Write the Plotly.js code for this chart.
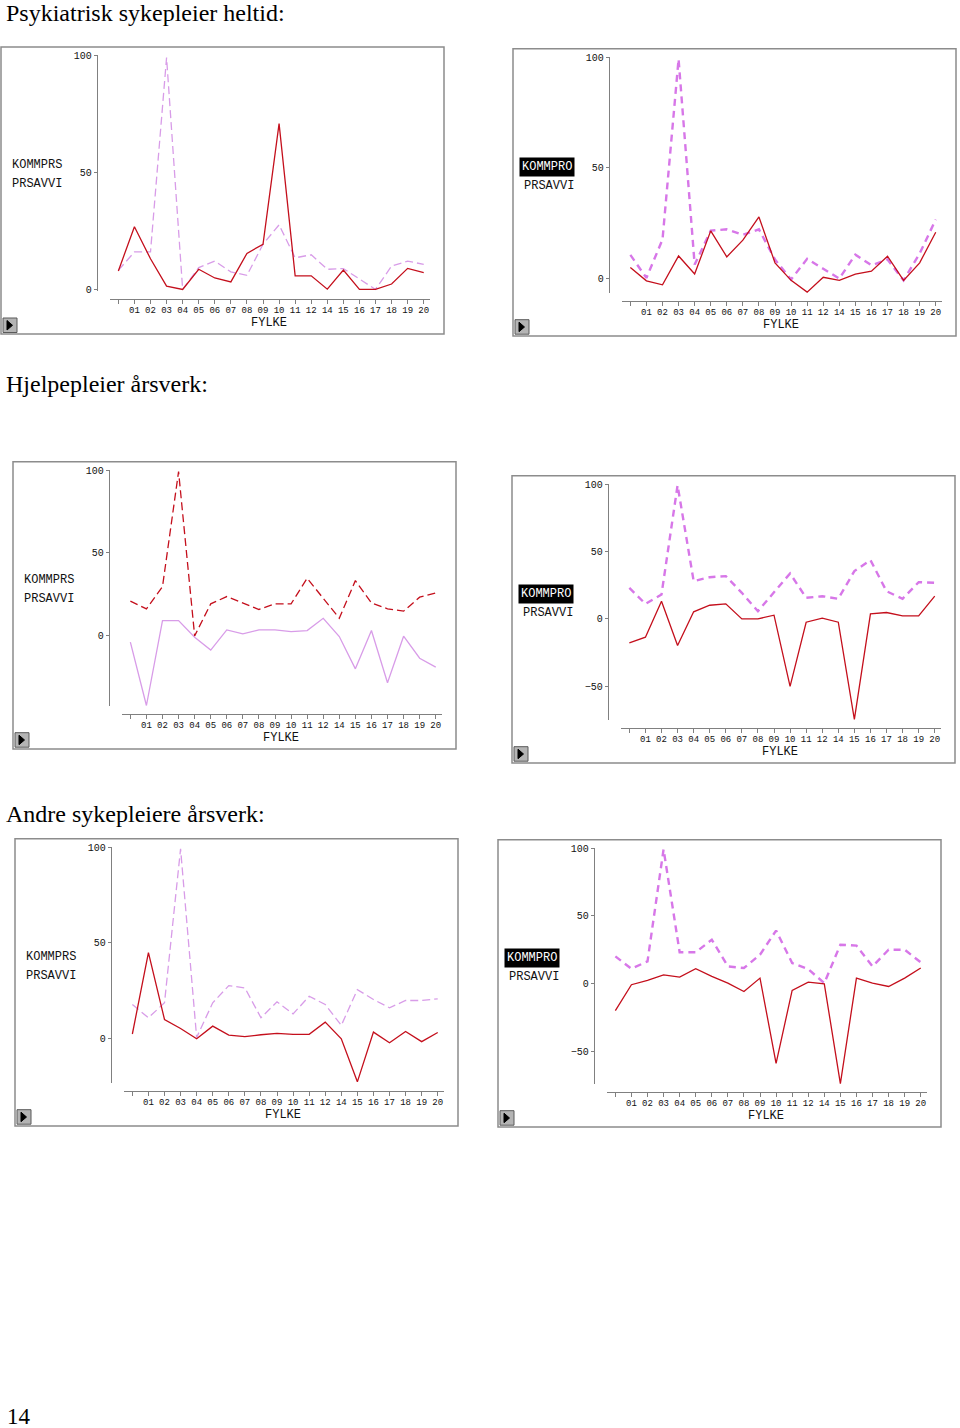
<!DOCTYPE html>
<html>
<head>
<meta charset="utf-8">
<script src="https://cdn.plot.ly/plotly-3.0.1.min.js"></script>
<style>
  html, body { margin: 0; padding: 0; background: #ffffff; }
  #chart { width: 960px; height: 1428px; }
</style>
</head>
<body>
<div id="chart"></div>
<script>
// ---- data ----
const fylke = ['', '01', '02', '03', '04', '05', '06', '07', '08', '09', '10', '11', '12', '14', '15', '16', '17', '18', '19', '20'];

const sectionTitles = ['Psykiatrisk sykepleier heltid:', 'Hjelpepleier årsverk:', 'Andre sykepleiere årsverk:'];
const pageNumber = '14';

// Psykiatrisk sykepleier heltid – KOMMPRS (left) / KOMMPRO (right)
const p1Red    = [7.9, 26.8, 13.1, 1.4, 0, 8.6, 4.9, 3.2, 15.4, 19.3, 70.8, 5.8, 5.8, 0.1, 8.3, 0, 0, 2.3, 9, 7.2];
const p1Violet = [8.2, 16, 16, 99, 0, 9.3, 12.1, 7.5, 6, 19.3, 27.6, 13.5, 14.8, 8.6, 8.9, 4.4, 0, 10, 12.1, 10.7];
const p2Red    = [5.1, -0.9, -2.7, 10.3, 2.2, 21.6, 9.9, 17.4, 27.9, 7.2, -0.7, -6, 0.7, -0.7, 2.1, 3.4, 10.2, -0.7, 7.2, 21];
const p2Violet = [10.8, 0.4, 17.7, 99, 6.4, 21.7, 22.3, 19.8, 22.3, 8.7, -0.3, 9, 4.5, 0.1, 10.9, 6.1, 8.7, -0.7, 11.4, 26.7];

// Hjelpepleier årsverk
const p3Red    = [20.9, 16.3, 29.7, 99, 0, 19.3, 23.7, 19.9, 15.9, 19.3, 19.3, 34.7, 22.3, 10.6, 33.3, 19.9, 16.3, 14.9, 23.3, 25.9];
const p3Violet = [-3.8, -42, 9.2, 9.2, -0.8, -8.6, 3.6, 1.2, 3.6, 3.6, 2.6, 3.2, 10.6, -0.4, -19.9, 3.2, -28.3, -0.2, -13.5, -18.9];
const p4Red    = [-17.8, -13.6, 13.1, -19.8, 5.2, 10.1, 11.1, 0, 0, 2.7, -50, -2.5, 0.5, -2.5, -74.5, 3.7, 4.7, 2.2, 2.2, 16.8];
const p4Violet = [23, 11.1, 18.1, 99, 28, 30.9, 31.7, 19.3, 5.7, 20, 33.7, 15.6, 16.8, 14.9, 35.4, 43.6, 20.5, 14.9, 27.2, 26.7];

// Andre sykepleiere årsverk
const p5Red    = [2.3, 44.8, 9.9, 5.2, -0.2, 6.4, 1.7, 0.9, 1.9, 2.6, 2.1, 2.1, 8.5, -0.2, -22.7, 3.3, -2.3, 3.6, -1.7, 3.1];
const p5Violet = [17.7, 10.8, 18.6, 99, 0.5, 18.6, 27.6, 26.4, 10.8, 19.1, 12.8, 22, 17.7, 6.8, 25.5, 20.3, 16, 19.8, 19.8, 20.7];
const p6Red    = [-19.7, -0.7, 2.5, 6.6, 4.9, 11.1, 5.4, 0.5, -5.7, 4.2, -58.6, -4.9, 1.2, 0, -73.5, 4.2, 0.5, -2, 4.2, 11.6];
const p6Violet = [20.2, 11.1, 16.5, 99, 23.2, 23.2, 32.5, 12.8, 11.6, 21.4, 39.2, 15.3, 10.8, 0.5, 28.8, 28.1, 12.8, 25.1, 25.1, 15.8];

const labelsLeft  = ['KOMMPRS', 'PRSAVVI'];
const labelsRight = ['KOMMPRO', 'PRSAVVI'];
const xAxisTitle = 'FYLKE';

// ---- layout helpers ----
const W = 960, H = 1428;
const fx = x => x / W;
const fy = y => 1 - y / H;

const RED = '#c40f1c';
const VIO_L = '#d89ce8';
const VIO_B = '#d777e8';
const GRAY = '#808080';
const MONO = 'Liberation Mono, Courier New, monospace';
const SERIF = 'Liberation Serif, Times New Roman, serif';

const panels = [
  {L: 1,   T: 47,    R: 444, B: 334,  ymin: -0.8,  yt: [0, 50, 100],
   red: p1Red, vio: p1Violet, redDash: false, bold: false, labels: labelsLeft},
  {L: 513, T: 48.7,  R: 956, B: 336,  ymin: -6.4,  yt: [0, 50, 100],
   red: p2Red, vio: p2Violet, redDash: false, bold: true, labels: labelsRight},
  {L: 13,  T: 461.7, R: 456, B: 749,  ymin: -42.3, yt: [0, 50, 100],
   red: p3Red, vio: p3Violet, redDash: true, bold: false, labels: labelsLeft},
  {L: 512, T: 475.7, R: 955, B: 763,  ymin: -75,   yt: [-50, 0, 50, 100],
   red: p4Red, vio: p4Violet, redDash: false, bold: true, labels: labelsRight},
  {L: 15,  T: 838.7, R: 458, B: 1126, ymin: -23.3, yt: [0, 50, 100],
   red: p5Red, vio: p5Violet, redDash: false, bold: false, labels: labelsLeft},
  {L: 498, T: 839.7, R: 941, B: 1127, ymin: -73.8, yt: [-50, 0, 50, 100],
   red: p6Red, vio: p6Violet, redDash: false, bold: true, labels: labelsRight}
];

const xIdx = fylke.map((_, i) => i);

const data = [];
const layout = {
  width: W, height: H,
  margin: {l: 0, r: 0, t: 0, b: 0, pad: 0},
  paper_bgcolor: '#ffffff',
  plot_bgcolor: 'rgba(0,0,0,0)',
  showlegend: false,
  font: {family: MONO, color: '#111'},
  shapes: [],
  annotations: []
};

panels.forEach((p, i) => {
  const n = i + 1;
  const xa = n === 1 ? 'xaxis' : 'xaxis' + n;
  const ya = n === 1 ? 'yaxis' : 'yaxis' + n;
  const xr = n === 1 ? 'x' : 'x' + n;
  const yr = n === 1 ? 'y' : 'y' + n;

  layout[xa] = {
    domain: [fx(p.L + 109), fx(p.L + 429)],
    anchor: 'free', position: fy(p.T + 252.3),
    range: [-0.52, 19.39],
    tickmode: 'array', tickvals: xIdx, ticktext: fylke,
    ticks: 'outside', ticklen: 4, tickcolor: GRAY, tickwidth: 1,
    ticklabelstandoff: -2,
    showline: true, linecolor: GRAY, linewidth: 1,
    showgrid: false, zeroline: false, fixedrange: true,
    tickfont: {family: MONO, size: 9, color: '#111'}
  };
  layout[ya] = {
    domain: [fy(p.T + 244.3), fy(p.T + 8.3)],
    anchor: 'free', position: fx(p.L + 95.7),
    range: [p.ymin, 100],
    tickmode: 'array', tickvals: p.yt,
    ticks: 'outside', ticklen: 3, tickcolor: GRAY, tickwidth: 1,
    showline: true, linecolor: GRAY, linewidth: 1,
    showgrid: false, zeroline: false, fixedrange: true,
    tickfont: {family: MONO, size: 10, color: '#111'}
  };

  // violet series
  data.push({
    type: 'scatter', mode: 'lines', x: xIdx, y: p.vio, xaxis: xr, yaxis: yr,
    line: p.redDash
      ? {color: VIO_L, width: 1.3}
      : (p.bold ? {color: VIO_B, width: 2.4, dash: '7px,5px'} : {color: VIO_L, width: 1.3, dash: '8px,4px'}),
    hoverinfo: 'skip'
  });
  // red series
  data.push({
    type: 'scatter', mode: 'lines', x: xIdx, y: p.red, xaxis: xr, yaxis: yr,
    line: p.redDash ? {color: RED, width: 1.3, dash: '8px,4px'} : {color: RED, width: 1.3},
    hoverinfo: 'skip'
  });

  // frame
  layout.shapes.push({type: 'rect', xref: 'paper', yref: 'paper',
    x0: fx(p.L), x1: fx(p.R), y0: fy(p.B), y1: fy(p.T),
    line: {color: '#8c8c8c', width: 1.5}, fillcolor: 'rgba(0,0,0,0)', layer: 'below'});
  // play button
  layout.shapes.push({type: 'rect', xref: 'paper', yref: 'paper',
    x0: fx(p.L + 2), x1: fx(p.L + 16), y0: fy(p.T + 285.5), y1: fy(p.T + 271),
    line: {color: '#5a5a5a', width: 1}, fillcolor: '#b4b4b4'});
  layout.shapes.push({type: 'path', xref: 'paper', yref: 'paper',
    path: 'M ' + fx(p.L + 6) + ' ' + fy(p.T + 273.5) + ' L ' + fx(p.L + 11.5) + ' ' + fy(p.T + 278.3) +
          ' L ' + fx(p.L + 6) + ' ' + fy(p.T + 283) + ' Z',
    line: {color: '#000', width: 1}, fillcolor: '#000'});

  // legend labels
  if (p.bold) {
    layout.annotations.push({xref: 'paper', yref: 'paper', x: fx(p.L + 6.3), y: fy(p.T + 118),
      xanchor: 'left', yanchor: 'middle', showarrow: false, text: p.labels[0],
      bgcolor: '#000000', borderpad: 2,
      font: {family: MONO, size: 12, color: '#ffffff'}});
  } else {
    layout.annotations.push({xref: 'paper', yref: 'paper', x: fx(p.L + 8.8), y: fy(p.T + 118),
      xanchor: 'left', yanchor: 'middle', showarrow: false, text: p.labels[0],
      font: {family: MONO, size: 12, color: '#111'}});
  }
  layout.annotations.push({xref: 'paper', yref: 'paper', x: fx(p.L + 8.8), y: fy(p.T + 137),
    xanchor: 'left', yanchor: 'middle', showarrow: false, text: p.labels[1],
    font: {family: MONO, size: 12, color: '#111'}});
  // x axis title
  layout.annotations.push({xref: 'paper', yref: 'paper', x: fx(p.L + 268), y: fy(p.T + 276.5),
    xanchor: 'center', yanchor: 'middle', showarrow: false, text: xAxisTitle,
    font: {family: MONO, size: 12, color: '#111'}});
});

// section titles and page number
const titleY = [-1.5, 370, 800];
sectionTitles.forEach((t, i) => {
  layout.annotations.push({xref: 'paper', yref: 'paper', x: fx(5), y: fy(titleY[i]),
    xanchor: 'left', yanchor: 'top', showarrow: false, text: t, borderpad: 0,
    font: {family: SERIF, size: 24, color: '#000'}});
});
layout.annotations.push({xref: 'paper', yref: 'paper', x: fx(6), y: fy(1429.5),
  xanchor: 'left', yanchor: 'bottom', showarrow: false, text: pageNumber, borderpad: 0,
  font: {family: SERIF, size: 23, color: '#000'}});

Plotly.newPlot('chart', data, layout, {displayModeBar: false, staticPlot: true});
</script>
</body>
</html>
